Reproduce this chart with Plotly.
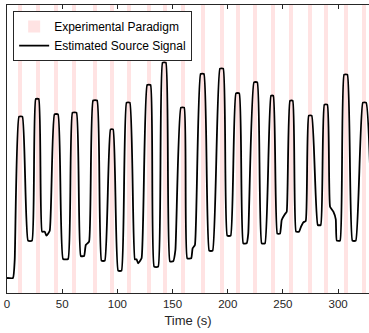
import plotly.graph_objects as go

# Experimental paradigm: stimulus onsets (s) and duration (s)
stim_onsets = [10.0, 25.9, 43.0, 59.3, 78.2, 92.9, 108.3, 126.5, 141.0, 157.3,
               175.4, 193.0, 207.5, 223.2, 239.2, 255.5, 273.1, 287.3, 305.4, 321.5]
stim_duration = 3.6

# Estimated source signal (time in s, amplitude in a.u.)
sig_time = [0, 5.44, 6.98, 10.89, 13.97, 19.05, 22.68, 26.03, 28.76, 31.75, 34.20, 35.74, 38.73,
            43.0, 46.26, 50.80, 55.33, 59.32, 62.95, 66.85, 69.85, 71.39, 74.38,
            78.01, 81.64, 85.63, 88.63, 93.80, 96.15, 100.69, 103.77, 108.31, 111.30,
            115.84, 117.38, 118.83, 121.92, 127.0, 130.08, 133.34, 136.97, 140.96, 143.96,
            147.59, 150.58, 152.58, 157.57, 160.56, 163.28, 166.91, 168.18, 170.27,
            175.44, 178.43, 183.24, 186.32, 192.94, 195.93, 199.56, 202.65, 207.45, 210.45,
            214.08, 217.16, 218.61, 223.78, 226.78, 230.77, 233.76, 239.20, 241.29,
            244.92, 247.37, 248.91, 251.90, 253.45, 256.44, 258.89, 261.88, 264.60, 266.42,
            268.51, 270.68, 273.40, 276.13, 281.57, 284.29, 287.55, 290.27, 292.72, 295.72,
            297.89, 298.80, 301.79, 305.42, 308.41, 312.95, 316.04, 322.39, 325.38, 330.8]
sig_value = [0.15, 0.15, 0.33, 1.763, 1.763, 0.523, 0.523, 1.94, 1.94, 0.613, 0.613, 0.573, 0.623,
             1.787, 1.787, 0.34, 0.34, 1.803, 1.803, 0.37, 0.37, 0.48, 0.513,
             1.925, 1.925, 0.323, 0.323, 1.637, 1.637, 0.223, 0.223, 1.903, 1.903,
             0.337, 0.337, 0.297, 0.347, 2.08, 2.08, 0.263, 0.263, 2.303, 2.303,
             0.317, 0.317, 0.43, 1.853, 1.853, 0.347, 0.347, 0.447, 0.48,
             2.19, 2.19, 0.423, 0.423, 2.243, 2.243, 0.573, 0.573, 1.997, 1.997,
             0.497, 0.497, 0.597, 2.107, 2.107, 0.497, 0.497, 1.973, 1.973,
             0.593, 0.593, 0.73, 0.79, 0.813, 1.923, 1.923, 0.613, 0.613, 0.663,
             0.707, 0.72, 1.773, 1.773, 0.68, 0.68, 1.883, 1.883, 0.863, 0.813,
             0.737, 0.523, 0.523, 2.183, 2.183, 0.523, 0.523, 1.903, 1.903, 0.53]

x_ticks = [0, 50, 100, 150, 200, 250, 300]
x_range = [0, 328]
y_range = [0, 2.88]

fig = go.Figure()
fig.add_trace(go.Bar(
    x=stim_onsets, y=[y_range[1]] * len(stim_onsets), base=0,
    width=stim_duration, offset=0,
    marker=dict(color="#FFE3E3", line=dict(width=0)),
    name="Experimental Paradigm", hoverinfo="skip"))
fig.add_trace(go.Scatter(
    x=sig_time, y=sig_value, mode="lines",
    line=dict(color="black", width=1.8, shape="spline", smoothing=0.4),
    name="Estimated Source Signal"))

axis_col = "#262626"
fig.update_layout(
    width=369, height=333,
    margin=dict(l=7, r=0, t=5, b=40),
    plot_bgcolor="white", paper_bgcolor="white",
    font=dict(family="Liberation Sans, Arial, sans-serif", size=11.5, color=axis_col),
    bargap=0,
    showlegend=True,
    legend=dict(x=0.017, y=0.979, xanchor="left", yanchor="top",
                bgcolor="white", bordercolor=axis_col, borderwidth=1,
                font=dict(size=12, color="black"), traceorder="normal",
                tracegroupgap=0, itemwidth=30),
    xaxis=dict(range=x_range, tickvals=x_ticks, ticks="inside", ticklen=4,
               tickcolor=axis_col, showline=True, linecolor=axis_col, linewidth=1,
               mirror="ticks", showgrid=False, zeroline=False,
               tickfont=dict(size=11.5),
               title=dict(text="Time (s)", standoff=7, font=dict(size=13))),
    yaxis=dict(range=y_range, showticklabels=False, ticks="", showline=True,
               linecolor=axis_col, linewidth=1, showgrid=False, zeroline=False),
)
fig.write_html("out.html")
